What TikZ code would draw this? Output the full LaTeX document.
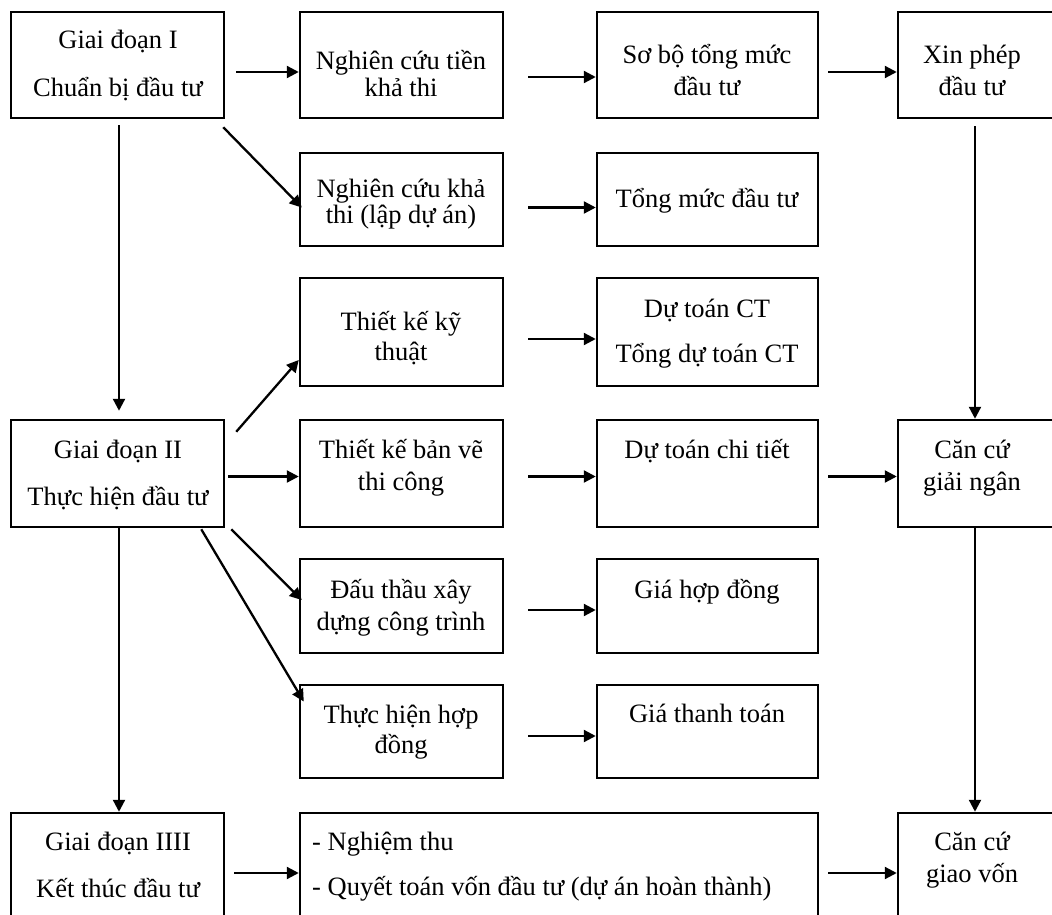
\documentclass[tikz,border=0pt]{standalone}
\usepackage{fontspec}
\setmainfont{Liberation Serif}
\usetikzlibrary{arrows.meta,calc}
\begin{document}
\begin{tikzpicture}[x=1pt,y=-1pt,
  box/.style={draw, line width=2.5pt, rectangle, inner sep=0pt},
  lbl/.style={anchor=base, inner sep=0pt, font=\fontsize{26.5}{30}\selectfont},
  lbll/.style={anchor=base west, inner sep=0pt, font=\fontsize{26.5}{30}\selectfont},
  arr/.style={line width=2.3pt, -{Triangle[length=12pt,width=12pt]}}]
\useasboundingbox (0,0) rectangle (1052,915);
% box by corners: name, x1, y1, x2, y2
\newcommand\drawbox[5]{\node[box, minimum width={(#4-#2)*1pt}, minimum height={(#5-#3)*1pt}] (#1) at ({(#2+#4)/2},{(#3+#5)/2}) {};}

% column 1: stages
\drawbox{g1}{11}{12}{224}{118}
\drawbox{g2}{11}{420}{224}{527}
\drawbox{g3}{11}{813}{224}{935}
% column 2
\drawbox{n1}{300}{12}{503}{118}
\drawbox{n2}{300}{153}{503}{246}
\drawbox{k3}{300}{278}{503}{386}
\drawbox{b4}{300}{420}{503}{527}
\drawbox{dt5}{300}{559}{503}{653}
\drawbox{th6}{300}{685}{503}{778}
\drawbox{nt}{300}{813}{818}{935}
% column 3
\drawbox{s1}{597}{12}{818}{118}
\drawbox{t2}{597}{153}{818}{246}
\drawbox{d3}{597}{278}{818}{386}
\drawbox{c4}{597}{420}{818}{527}
\drawbox{gh5}{597}{559}{818}{653}
\drawbox{gt6}{597}{685}{818}{778}
% column 4
\drawbox{x1}{898}{12}{1070}{118}
\drawbox{cg}{898}{420}{1070}{527}
\drawbox{gv}{898}{813}{1070}{935}

% texts
\node[lbl] at (118,49) {Giai đoạn I};
\node[lbl] at (118,97) {Chuẩn bị đầu tư};
\node[lbl] at (118,458) {Giai đoạn II};
\node[lbl] at (118,505) {Thực hiện đầu tư};
\node[lbl] at (118,850) {Giai đoạn IIII};
\node[lbl] at (118,897) {Kết thúc đầu tư};

\node[lbl] at (401,70) {Nghiên cứu tiền};
\node[lbl] at (401,97) {khả thi};
\node[lbl] at (401,197) {Nghiên cứu khả};
\node[lbl] at (401,223) {thi (lập dự án)};
\node[lbl] at (401,330) {Thiết kế kỹ};
\node[lbl] at (401,360) {thuật};
\node[lbl] at (401,458) {Thiết kế bản vẽ};
\node[lbl] at (401,490) {thi công};
\node[lbl] at (401,598) {Đấu thầu xây};
\node[lbl] at (401,630) {dựng công trình};
\node[lbl] at (401,723) {Thực hiện hợp};
\node[lbl] at (401,753) {đồng};
\node[lbll] at (312,850) {- Nghiệm thu};
\node[lbll] at (312,895) {- Quyết toán vốn đầu tư (dự án hoàn thành)};

\node[lbl] at (707,64) {Sơ bộ tổng mức};
\node[lbl] at (707,96) {đầu tư};
\node[lbl] at (707,207) {Tổng mức đầu tư};
\node[lbl] at (707,317) {Dự toán CT};
\node[lbl] at (707,362) {Tổng dự toán CT};
\node[lbl] at (707,458) {Dự toán chi tiết};
\node[lbl] at (707,598) {Giá hợp đồng};
\node[lbl] at (707,722) {Giá thanh toán};

\node[lbl] at (972,64) {Xin phép};
\node[lbl] at (972,96) {đầu tư};
\node[lbl] at (972,458) {Căn cứ};
\node[lbl] at (972,490) {giải ngân};
\node[lbl] at (972,850) {Căn cứ};
\node[lbl] at (972,882) {giao vốn};

% connectors
\draw[arr] ([shift={(11,7)}]g1.east) -- ([shift={(0,7)}]n1.west);
\draw[arr] ([shift={(-2,8)}]g1.south east) -- ([shift={(3,8)}]n2.west);
\draw[arr] ([shift={(1.5,6)}]g1.south) -- ([shift={(1.5,-8)}]g2.north);
\draw[arr] ([shift={(24,12)}]n1.east) -- ([shift={(0,12)}]s1.west);
\draw[arr] ([shift={(24,8)}]n2.east) -- ([shift={(0,8)}]t2.west);
\draw[arr] ([shift={(9,7)}]s1.east) -- ([shift={(0,7)}]x1.west);
\draw[arr] ([shift={(-9,7)}]x1.south) -- ([shift={(-9,0)}]cg.north);
\draw[arr] ([shift={(11,13)}]g2.north east) -- ([shift={(0,28)}]k3.west);
\draw[arr] ([shift={(3,3)}]g2.east) -- ([shift={(0,3)}]b4.west);
\draw[arr] ([shift={(6,1)}]g2.south east) -- ([shift={(3,-6)}]dt5.west);
\draw[arr] ([shift={(-24,1)}]g2.south east) -- ([shift={(5,-30)}]th6.west);
\draw[arr] ([shift={(1.5,0)}]g2.south) -- ([shift={(1.5,0)}]g3.north);
\draw[arr] ([shift={(24,7)}]k3.east) -- ([shift={(0,7)}]d3.west);
\draw[arr] ([shift={(24,3)}]b4.east) -- ([shift={(0,3)}]c4.west);
\draw[arr] ([shift={(9,3)}]c4.east) -- ([shift={(0,3)}]cg.west);
\draw[arr] ([shift={(-9,0)}]cg.south) -- ([shift={(-9,0)}]gv.north);
\draw[arr] ([shift={(24,4)}]dt5.east) -- ([shift={(0,4)}]gh5.west);
\draw[arr] ([shift={(24,4.5)}]th6.east) -- ([shift={(0,4.5)}]gt6.west);
\draw[arr] ([shift={(9,-1)}]g3.east) -- ([shift={(0,-1)}]nt.west);
\draw[arr] ([shift={(9,-1)}]nt.east) -- ([shift={(0,-1)}]gv.west);
\end{tikzpicture}
\end{document}
